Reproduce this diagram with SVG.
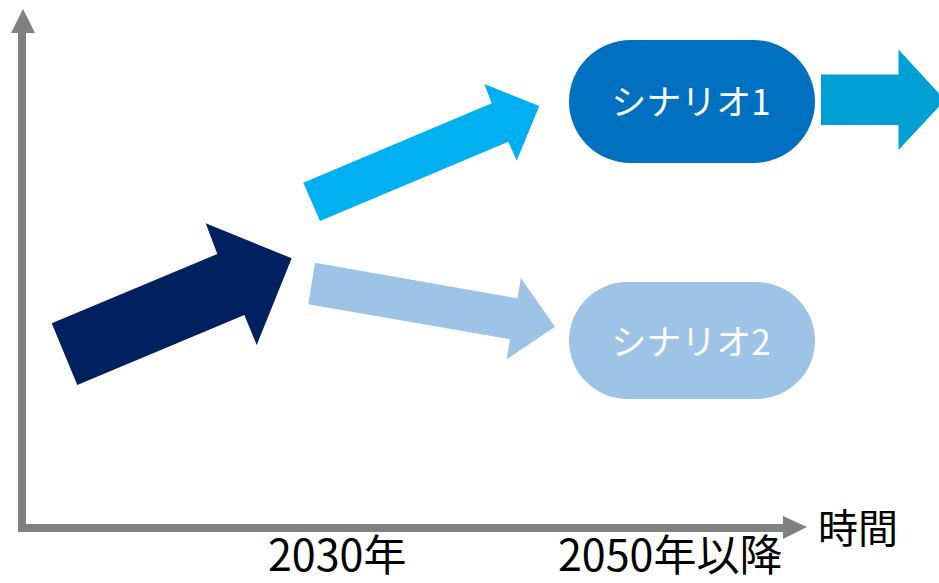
<svg xmlns="http://www.w3.org/2000/svg" width="939" height="583" viewBox="0 0 939 583">
<style>
.axis{stroke:#808080;stroke-width:8;fill:none}
.axhead{fill:#808080}
.lbl{font-family:"Noto Sans CJK JP","Noto Sans",sans-serif;fill:#000000}
.ntxt{font-family:"Noto Sans CJK JP","Noto Sans",sans-serif;fill:#ffffff;font-size:35px;text-anchor:middle}
</style>
<rect width="939" height="583" fill="#ffffff"/>
<g id="axes">
<line class="axis" x1="22" y1="30" x2="22" y2="528"/>
<polygon class="axhead" points="23,9 35,33 11,33"/>
<line class="axis" x1="18" y1="528" x2="786" y2="528"/>
<polygon class="axhead" points="807,527 783,516 783,539"/>
</g>
<g id="connectors">
<polygon id="arrow-main" fill="#002060" points="51.7,323.3 77.3,385 244.3,315 256.7,345 291.7,258.3 205.7,223.3 217.3,254"/>
<polygon id="arrow-up" fill="#00B0F0" points="303.3,182.7 320,221 508.3,141.7 516.7,160.7 539.3,106 484.3,84 491.7,103.3"/>
<polygon id="arrow-down" fill="#9DC3E6" points="315,262.7 308.3,304.3 510,339.3 506.7,359.3 555,326.7 521,278.3 517.3,298.3"/>
<polygon id="arrow-right" fill="#009FD4" points="821,74.5 898.5,74.5 898.5,49.5 945,100 898.5,150 898.5,125 821,125"/>
</g>
<g id="scenario1">
<rect x="569" y="40" width="246" height="123" rx="61.5" fill="#0070C0"/>
<text class="ntxt" x="691" y="115">シナリオ1</text>
</g>
<g id="scenario2">
<rect x="569" y="282" width="246" height="117" rx="58.5" fill="#9DC3E6"/>
<text class="ntxt" x="691" y="355">シナリオ2</text>
</g>
<g id="labels">
<text class="lbl" x="818" y="543" font-size="40">時間</text>
<text class="lbl" x="268" y="571" font-size="43">2030年</text>
<text class="lbl" x="558" y="571" font-size="43">2050年以降</text>
</g>
</svg>
